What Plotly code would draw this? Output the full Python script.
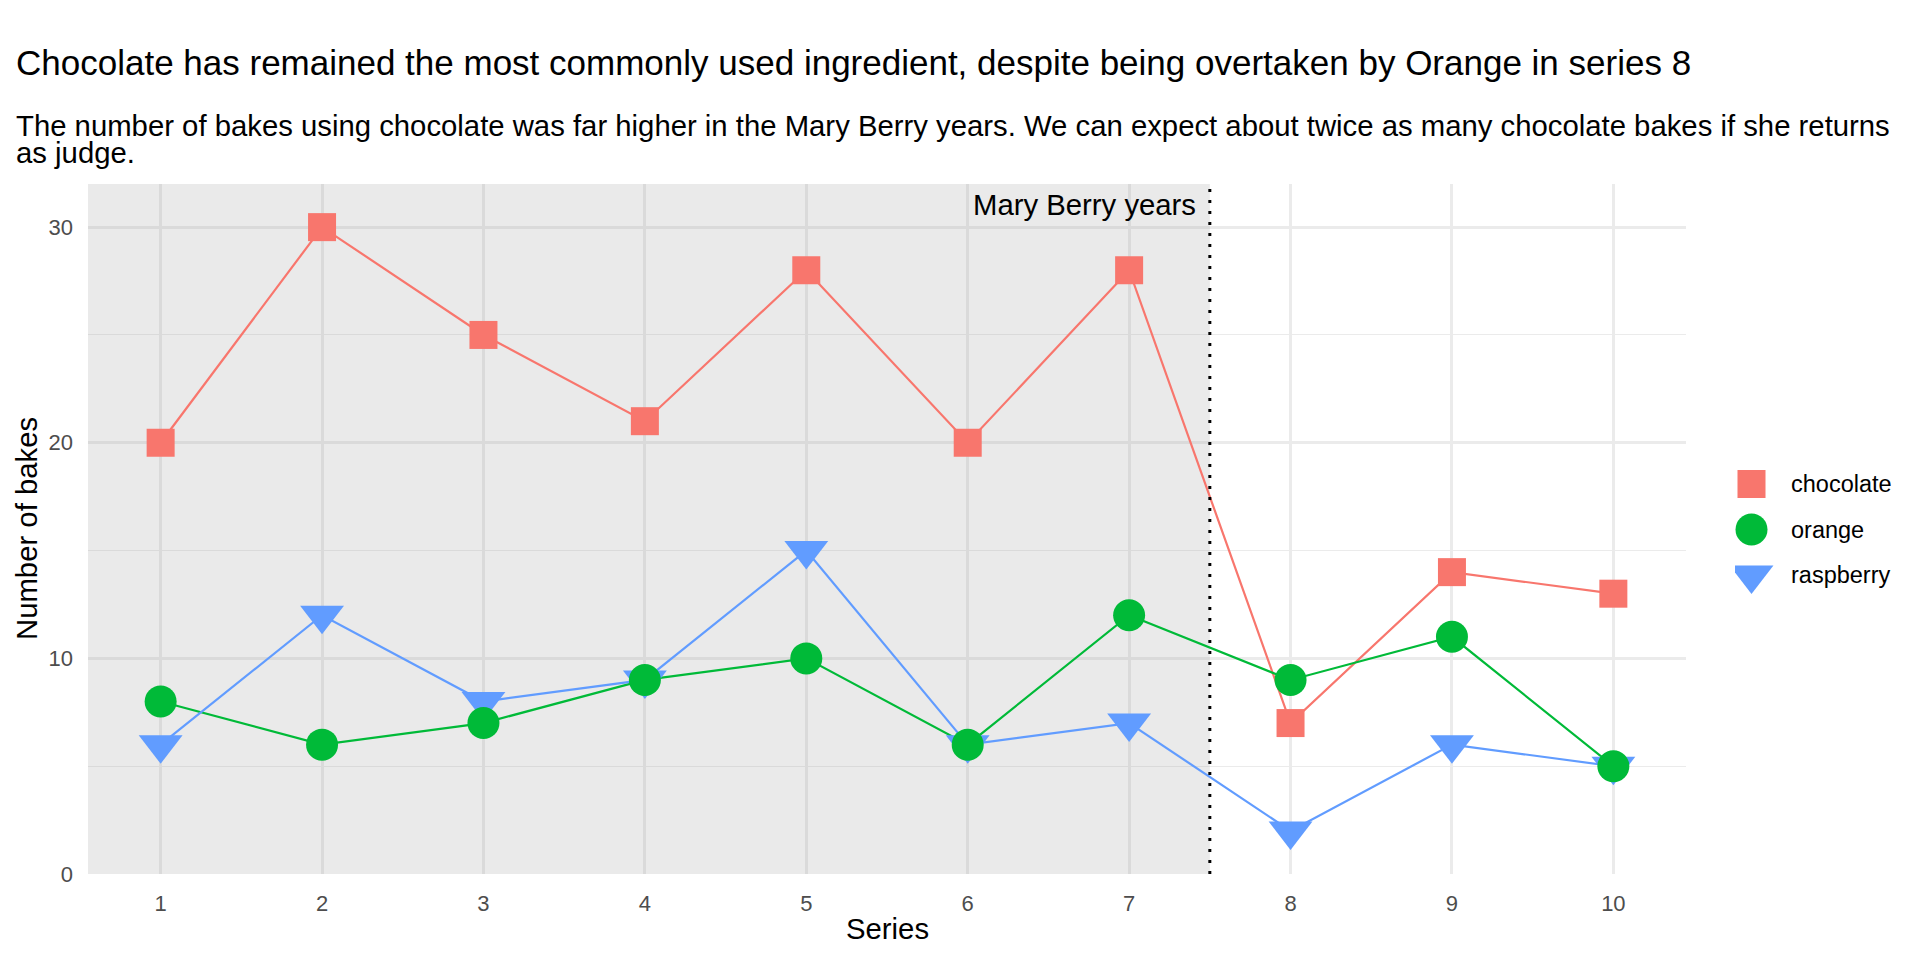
import plotly.graph_objects as go

# ---- data ----
series = [1, 2, 3, 4, 5, 6, 7, 8, 9, 10]
chocolate = [20, 30, 25, 21, 28, 20, 28, 7, 14, 13]
orange = [8, 6, 7, 9, 10, 6, 12, 9, 11, 5]
raspberry = [6, 12, 8, 9, 15, 6, 7, 2, 6, 5]
ingredients = ["chocolate", "orange", "raspberry"]
mary_berry_end = 7.5
y_ticks = [0, 10, 20, 30]
y_minor = [5, 15, 25]
x_ticks = series
X_RANGE = [0.55, 10.45]
Y_RANGE = [0, 32]

colors = {"chocolate": "#F8766D", "orange": "#00BA38", "raspberry": "#619CFF"}
symbols = {"chocolate": "square", "orange": "circle", "raspberry": "triangle-down"}
sizes = {"chocolate": 28, "orange": 32, "raspberry": 38}
values = {"chocolate": chocolate, "orange": orange, "raspberry": raspberry}

W, H = 1920, 960
ML, MR, MT, MB = 88, 20, 184, 86
PW = W - ML - MR
PH = H - MT - MB
PANEL_RIGHT = 1686

def px_x(x):
    return (x - ML) / PW

def px_y(y):
    return (H - MB - y) / PH

FONT = "Liberation Sans"

fig = go.Figure()

# shaded Mary Berry period (as a translucent fill above the gridlines)
fig.add_trace(go.Scatter(
    x=[X_RANGE[0], mary_berry_end, mary_berry_end, X_RANGE[0], X_RANGE[0]],
    y=[Y_RANGE[0], Y_RANGE[0], Y_RANGE[1], Y_RANGE[1], Y_RANGE[0]],
    mode="lines", fill="toself", fillcolor="rgba(150,150,150,0.2)",
    line=dict(width=0), showlegend=False, hoverinfo="skip"))

# lines first
for ing in ingredients:
    fig.add_trace(go.Scatter(
        x=series, y=values[ing], mode="lines",
        line=dict(color=colors[ing], width=2.2),
        showlegend=False, hoverinfo="skip"))

# points (raspberry drawn before orange so circles sit on top)
for ing in ["chocolate", "raspberry", "orange"]:
    fig.add_trace(go.Scatter(
        x=series, y=values[ing], mode="markers", name=ing,
        marker=dict(color=colors[ing], symbol=symbols[ing], size=sizes[ing],
                    line=dict(width=0)),
        showlegend=False))

# custom legend on its own small axes
for ing in ingredients:
    fig.add_trace(go.Scatter(
        x=[0], y=[ing], mode="markers", xaxis="x3", yaxis="y3",
        marker=dict(color=colors[ing], symbol=symbols[ing], size=sizes[ing],
                    line=dict(width=0)),
        showlegend=False, hoverinfo="skip"))

fig.add_shape(type="line", xref="x", yref="paper",
              x0=mary_berry_end, x1=mary_berry_end, y0=0, y1=1,
              line=dict(color="black", width=3, dash="3px,8px"),
              layer="above")

annotations = [
    dict(text="Chocolate has remained the most commonly used ingredient, despite being overtaken by Orange in series 8",
         xref="paper", yref="paper", x=px_x(14), y=px_y(63),
         xanchor="left", yanchor="middle", showarrow=False,
         font=dict(family=FONT, size=35, color="black")),
    dict(text="The number of bakes using chocolate was far higher in the Mary Berry years. We can expect about twice as many chocolate bakes if she returns",
         xref="paper", yref="paper", x=px_x(14), y=px_y(126),
         xanchor="left", yanchor="middle", showarrow=False,
         font=dict(family=FONT, size=29.3, color="black")),
    dict(text="as judge.",
         xref="paper", yref="paper", x=px_x(14), y=px_y(153),
         xanchor="left", yanchor="middle", showarrow=False,
         font=dict(family=FONT, size=29.3, color="black")),
    dict(text="Mary Berry years", xref="x", yref="paper",
         x=mary_berry_end, y=px_y(204), xshift=-12,
         xanchor="right", yanchor="middle", showarrow=False,
         font=dict(family=FONT, size=29.3, color="black")),
    dict(text="Number of bakes", xref="paper", yref="paper",
         x=px_x(26), y=0.5, textangle=-90,
         xanchor="center", yanchor="middle", showarrow=False,
         font=dict(family=FONT, size=29.3, color="black")),
    dict(text="Series", xref="paper", yref="paper",
         x=px_x((ML + PANEL_RIGHT) / 2), y=px_y(928),
         xanchor="center", yanchor="middle", showarrow=False,
         font=dict(family=FONT, size=29.3, color="black")),
]
for ing in ingredients:
    annotations.append(dict(text=ing, xref="x3", yref="y3", x=2.3, y=ing,
                            xanchor="left", yanchor="middle", showarrow=False,
                            font=dict(family=FONT, size=23.5, color="black")))

fig.update_layout(
    width=W, height=H,
    margin=dict(l=ML, r=MR, t=MT, b=MB),
    paper_bgcolor="white", plot_bgcolor="white",
    font=dict(family=FONT, color="black"),
    showlegend=False,
    annotations=annotations,
    xaxis=dict(domain=[0, px_x(PANEL_RIGHT)], range=X_RANGE,
               tickvals=x_ticks, ticktext=[str(v) for v in x_ticks],
               showgrid=True, gridcolor="#EBEBEB", gridwidth=2.5,
               zeroline=False, showline=False, ticks="",
               ticklabelstandoff=14,
               tickfont=dict(family=FONT, size=22, color="#4D4D4D")),
    yaxis=dict(range=Y_RANGE, tickvals=y_ticks,
               showgrid=True, gridcolor="#EBEBEB", gridwidth=2.5,
               minor=dict(tickvals=y_minor, showgrid=True,
                          gridcolor="#EBEBEB", gridwidth=1.3),
               zeroline=False, showline=False, ticks="",
               ticklabelstandoff=14,
               tickfont=dict(family=FONT, size=22, color="#4D4D4D")),
    xaxis3=dict(domain=[px_x(1735), 1.0], range=[-1, 9], visible=False,
                anchor="y3", fixedrange=True),
    yaxis3=dict(domain=[px_y(597.75), px_y(461.25)], type="category",
                categoryorder="array", categoryarray=ingredients,
                range=[2.5, -0.5], visible=False, anchor="x3", fixedrange=True),
)

fig.write_html("out.html",
               config={"displayModeBar": False},
               post_script="document.body.style.margin='0';document.body.style.overflow='hidden';")
